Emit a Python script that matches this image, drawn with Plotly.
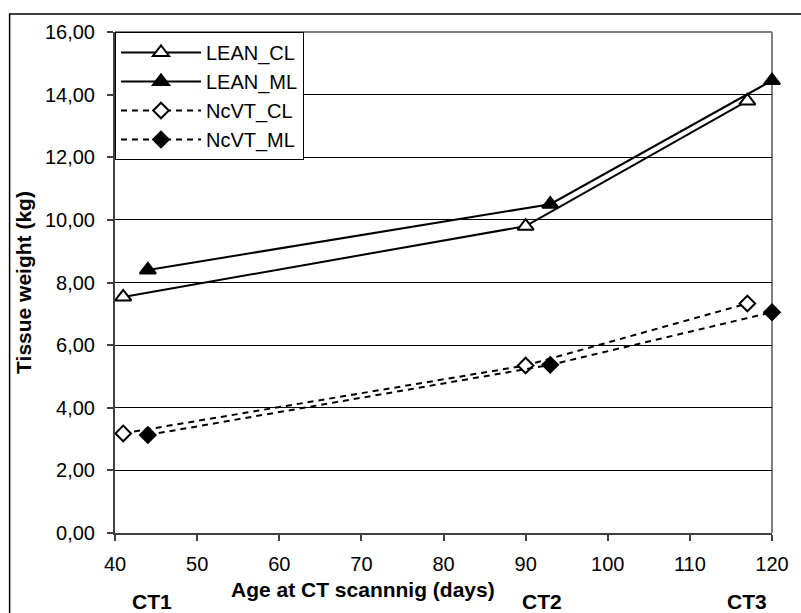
import plotly.graph_objects as go

# ---- data ----
lean_cl_x = [41, 90, 117]
lean_cl_y = [7.54, 9.80, 13.80]
lean_ml_x = [44, 93, 120]
lean_ml_y = [8.40, 10.50, 14.45]
ncvt_cl_x = [41, 90, 117]
ncvt_cl_y = [3.18, 5.35, 7.33]
ncvt_ml_x = [44, 93, 120]
ncvt_ml_y = [3.13, 5.37, 7.05]

series_names = ["LEAN_CL", "LEAN_ML", "NcVT_CL", "NcVT_ML"]
ct_labels = ["CT1", "CT2", "CT3"]
ct_label_x = [44.5, 92, 117]
x_title = "Age at CT scannnig (days)"
y_title = "Tissue weight (kg)"

FONT = "Liberation Sans, Arial, sans-serif"

fig = go.Figure()

fig.add_trace(go.Scatter(
    x=lean_cl_x, y=lean_cl_y, name=series_names[0], mode="lines+markers",
    line=dict(color="black", width=2),
    marker=dict(symbol="triangle-up", size=14, color="white",
                line=dict(color="black", width=2)),
    cliponaxis=False))
fig.add_trace(go.Scatter(
    x=lean_ml_x, y=lean_ml_y, name=series_names[1], mode="lines+markers",
    line=dict(color="black", width=2),
    marker=dict(symbol="triangle-up", size=14, color="black",
                line=dict(color="black", width=2)),
    cliponaxis=False))
fig.add_trace(go.Scatter(
    x=ncvt_cl_x, y=ncvt_cl_y, name=series_names[2], mode="lines+markers",
    line=dict(color="black", width=2, dash="6px,5px"),
    marker=dict(symbol="diamond", size=12, color="white",
                line=dict(color="black", width=2)),
    cliponaxis=False))
fig.add_trace(go.Scatter(
    x=ncvt_ml_x, y=ncvt_ml_y, name=series_names[3], mode="lines+markers",
    line=dict(color="black", width=2, dash="6px,5px"),
    marker=dict(symbol="diamond", size=12, color="black",
                line=dict(color="black", width=2)),
    cliponaxis=False))

# gray frame on top/right of plot area
fig.add_shape(type="line", xref="paper", yref="paper", x0=0, x1=1, y0=1, y1=1,
              line=dict(color="#808080", width=2), layer="between")
fig.add_shape(type="line", xref="paper", yref="paper", x0=1, x1=1, y0=0, y1=1,
              line=dict(color="#808080", width=2), layer="between")
# outer chart border (extends beyond the visible image on right/bottom)
fig.add_shape(type="rect", xref="paper", yref="paper",
              x0=(8 - 115) / 667, x1=1.3, y0=-0.3, y1=(533 - 14) / 501,
              line=dict(color="black", width=1.5), layer="below")

for lbl, xv in zip(ct_labels, ct_label_x):
    fig.add_annotation(x=xv, xref="x", y=-0.136, yref="paper", text=lbl,
                       showarrow=False, yanchor="middle", xanchor="center",
                       font=dict(family=FONT, size=21, color="black", weight="bold"))

# x-axis title (offset to the left as in the original)
fig.add_annotation(x=(367 - 115) / 667, xref="paper", y=-0.112, yref="paper",
                   text="<b>" + x_title + "</b>", showarrow=False,
                   xanchor="center", yanchor="middle",
                   font=dict(family=FONT, size=21, color="black"))

fig.update_layout(
    width=801, height=613,
    margin=dict(l=115, r=19, t=32, b=80),
    paper_bgcolor="white", plot_bgcolor="white",
    separators=",.",
    font=dict(family=FONT, size=20, color="black"),
    showlegend=True,
    legend=dict(x=0, y=1, xanchor="left", yanchor="top",
                bordercolor="black", borderwidth=1, bgcolor="white",
                font=dict(family=FONT, size=20, color="black"),
                tracegroupgap=0, itemwidth=80),
    xaxis=dict(range=[40, 120], dtick=10, tick0=40, ticks="outside", ticklen=6,
               tickcolor="#404040", tickwidth=2, showline=True, linecolor="#404040",
               linewidth=2, showgrid=False, zeroline=False,
               ticklabelstandoff=6,
               tickfont=dict(family=FONT, size=20)),
    yaxis=dict(range=[0, 16], dtick=2, tick0=0, ticks="outside", ticklen=6,
               tickcolor="#404040", tickwidth=2, showline=True, linecolor="#404040",
               linewidth=2, showgrid=True, gridcolor="black", gridwidth=1,
               zeroline=False, tickformat=".2f",
               ticklabelstandoff=8,
               tickfont=dict(family=FONT, size=20),
               title=dict(text="<b>" + y_title + "</b>", standoff=8,
                          font=dict(family=FONT, size=21))),
)

fig.write_html("out.html")
